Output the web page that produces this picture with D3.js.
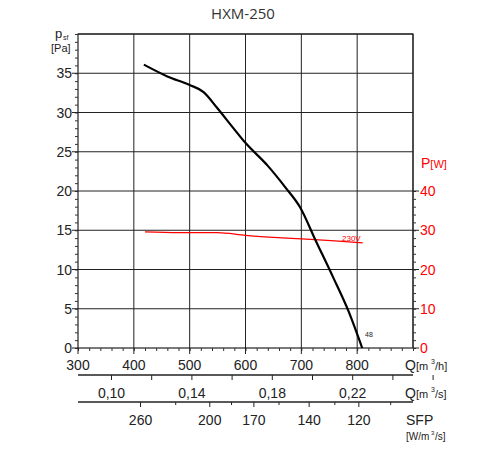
<!DOCTYPE html><html><head><meta charset="utf-8"><script src="https://cdn.jsdelivr.net/npm/d3@7"></script>
<style>body{margin:0;background:#fff}text{font-family:"Liberation Sans",Arial,sans-serif}</style></head><body><svg id="c" width="500" height="450"></svg><script>
const qTicks=[300,400,500,600,700,800];
const paTicks=[0,5,10,15,20,25,30,35];
const wTicks=[0,10,20,30,40];
const qsTicks=[0.10,0.14,0.18,0.22];
const qsMinor=[0.12,0.16,0.20,0.24,0.26];
const sfpLabels=["260","200","170","140","120"];
const sfpQ=[412,536,615,714,803];
const sfpMinorQ=[475,575,660,760,860];
const curveQ=[418,460,500,525,549,575,599,640,671,698,725,757,785,809];
const curvePa=[36.1,34.6,33.5,32.6,30.6,28.3,26.2,23.2,20.5,17.9,13.8,9.0,4.6,0];
const powQ=[420,480,550,600,650,700,760,810];
const powW=[29.6,29.4,29.4,28.7,28.2,27.8,27.3,26.8];
const svg=d3.select("#c");
const L=78,R=413,T=34,B=348;
const x=d3.scaleLinear().domain([300,900]).range([L,R]);
const y=d3.scaleLinear().domain([0,40]).range([B,T]);
const yw=d3.scaleLinear().domain([0,80]).range([B,T]);
const ink="#222";
const g=svg.append("g");
g.selectAll(".vg").data(qTicks.slice(1).concat([900])).enter().append("line").attr("x1",d=>x(d)).attr("x2",d=>x(d)).attr("y1",T).attr("y2",B).attr("stroke",ink);
g.selectAll(".hg").data(paTicks.slice(1).concat([40])).enter().append("line").attr("x1",L).attr("x2",R).attr("y1",d=>y(d)).attr("y2",d=>y(d)).attr("stroke",ink);
g.append("rect").attr("x",L).attr("y",T).attr("width",R-L).attr("height",B-T).attr("fill","none").attr("stroke",ink).attr("stroke-width",1.2);
const la=svg.append("g").attr("transform",`translate(${L},0)`).call(d3.axisLeft(y).tickValues(d3.range(0,41,1)).tickSize(3).tickFormat(""));
la.select(".domain").remove();la.selectAll("line").attr("stroke","#333");
svg.selectAll(".pl").data(paTicks).enter().append("text").attr("x",L-6).attr("y",d=>y(d)+5).attr("text-anchor","end").attr("font-size",14).attr("fill",ink).text(d=>d);
svg.selectAll(".plm").data(paTicks).enter().append("line").attr("x1",L-6).attr("x2",L).attr("y1",d=>y(d)).attr("y2",d=>y(d)).attr("stroke",ink);
svg.append("text").attr("x",55).attr("y",38).attr("font-size",13).attr("fill",ink).text("p");
svg.append("text").attr("x",63).attr("y",40).attr("font-size",7).attr("fill",ink).text("sf");
svg.append("text").attr("x",51).attr("y",52).attr("font-size",11).attr("fill",ink).text("[Pa]");
const ra=svg.append("g").attr("transform",`translate(${R},0)`).call(d3.axisRight(yw).tickValues(d3.range(0,41,2)).tickSize(3).tickFormat(""));
ra.select(".domain").remove();ra.selectAll("line").attr("stroke","#333");
svg.selectAll(".wm").data(wTicks).enter().append("line").attr("x1",R).attr("x2",R+6).attr("y1",d=>yw(d)).attr("y2",d=>yw(d)).attr("stroke",ink);
svg.selectAll(".wl").data(wTicks).enter().append("text").attr("x",R+7).attr("y",d=>yw(d)+5).attr("font-size",14).attr("fill","#f00").text(d=>d);
svg.append("text").attr("x",421).attr("y",168).attr("font-size",14).attr("fill","#f00").text("P").append("tspan").attr("font-size",11).text("[W]");
const ba=svg.append("g").attr("transform",`translate(0,${B})`).call(d3.axisBottom(x).tickValues(d3.range(300,901,20)).tickSize(3).tickFormat(""));
ba.select(".domain").remove();ba.selectAll("line").attr("stroke","#333");
svg.selectAll(".qm").data(qTicks).enter().append("line").attr("x1",d=>x(d)).attr("x2",d=>x(d)).attr("y1",B).attr("y2",B+6).attr("stroke",ink);
svg.selectAll(".ql").data(qTicks).enter().append("text").attr("x",d=>x(d)).attr("y",370).attr("text-anchor","middle").attr("font-size",14).attr("fill",ink).text(d=>d);
function unitLabel(x0,yy,main,tail){
  svg.append("text").attr("x",x0).attr("y",yy).attr("font-size",14).attr("fill",ink).text(main);
  svg.append("text").attr("x",x0+11).attr("y",yy).attr("font-size",11).attr("fill",ink).text("[m");
  svg.append("text").attr("x",x0+26).attr("y",yy-6).attr("font-size",7).attr("fill",ink).text("3");
  svg.append("text").attr("x",x0+30).attr("y",yy).attr("font-size",11).attr("fill",ink).text(tail);
}
unitLabel(405,370,"Q","/h]");
const y2=375;
svg.append("line").attr("x1",L).attr("x2",R).attr("y1",y2).attr("y2",y2).attr("stroke",ink).attr("stroke-width",1.3);
svg.selectAll(".qs").data(qsTicks.concat(qsMinor)).enter().append("line").attr("x1",d=>x(d*3600)).attr("x2",d=>x(d*3600)).attr("y1",y2).attr("y2",y2+5).attr("stroke",ink);
svg.selectAll(".qsl").data(qsTicks).enter().append("text").attr("x",d=>x(d*3600)).attr("y",398).attr("text-anchor","middle").attr("font-size",14).attr("fill",ink).text(d=>d.toFixed(2).replace(".",","));
unitLabel(405,398,"Q","/s]");
const y3=402;
svg.append("line").attr("x1",L).attr("x2",R).attr("y1",y3).attr("y2",y3).attr("stroke",ink).attr("stroke-width",1.3);
svg.selectAll(".sf").data(sfpQ).enter().append("line").attr("x1",d=>x(d)).attr("x2",d=>x(d)).attr("y1",y3).attr("y2",y3+5).attr("stroke",ink);
svg.selectAll(".sfm").data(sfpMinorQ).enter().append("line").attr("x1",d=>x(d)).attr("x2",d=>x(d)).attr("y1",y3).attr("y2",y3+3).attr("stroke",ink);
svg.selectAll(".sfl").data(sfpLabels).enter().append("text").attr("x",(d,i)=>x(sfpQ[i])).attr("y",425).attr("text-anchor","middle").attr("font-size",14).attr("fill",ink).text(d=>d);
svg.append("text").attr("x",406).attr("y",425).attr("font-size",14).attr("fill",ink).text("SFP");
svg.append("text").attr("x",406).attr("y",440).attr("font-size",10).attr("fill",ink).text("[W/m");
svg.append("text").attr("x",431).attr("y",435).attr("font-size",6).attr("fill",ink).text("3");
svg.append("text").attr("x",435).attr("y",440).attr("font-size",10).attr("fill",ink).text("/s]");
svg.append("text").attr("x",243).attr("y",19).attr("text-anchor","middle").attr("font-size",15).attr("fill","#333").style("font-family","'Open Sans',sans-serif").text("HXM-250");
svg.append("path").attr("d",d3.line().curve(d3.curveMonotoneX)(powQ.map((q,i)=>[x(q),yw(powW[i])]))).attr("fill","none").attr("stroke","#f00").attr("stroke-width",1.2);
svg.append("path").attr("d",d3.line().curve(d3.curveMonotoneX)(curveQ.map((q,i)=>[x(q),y(curvePa[i])]))).attr("fill","none").attr("stroke","#000").attr("stroke-width",2.2);
svg.append("text").attr("x",342).attr("y",241).attr("font-size",8).attr("fill","#f00").text("230V");
svg.append("text").attr("x",365).attr("y",337).attr("font-size",7).attr("fill",ink).text("48");
</script></body></html>
